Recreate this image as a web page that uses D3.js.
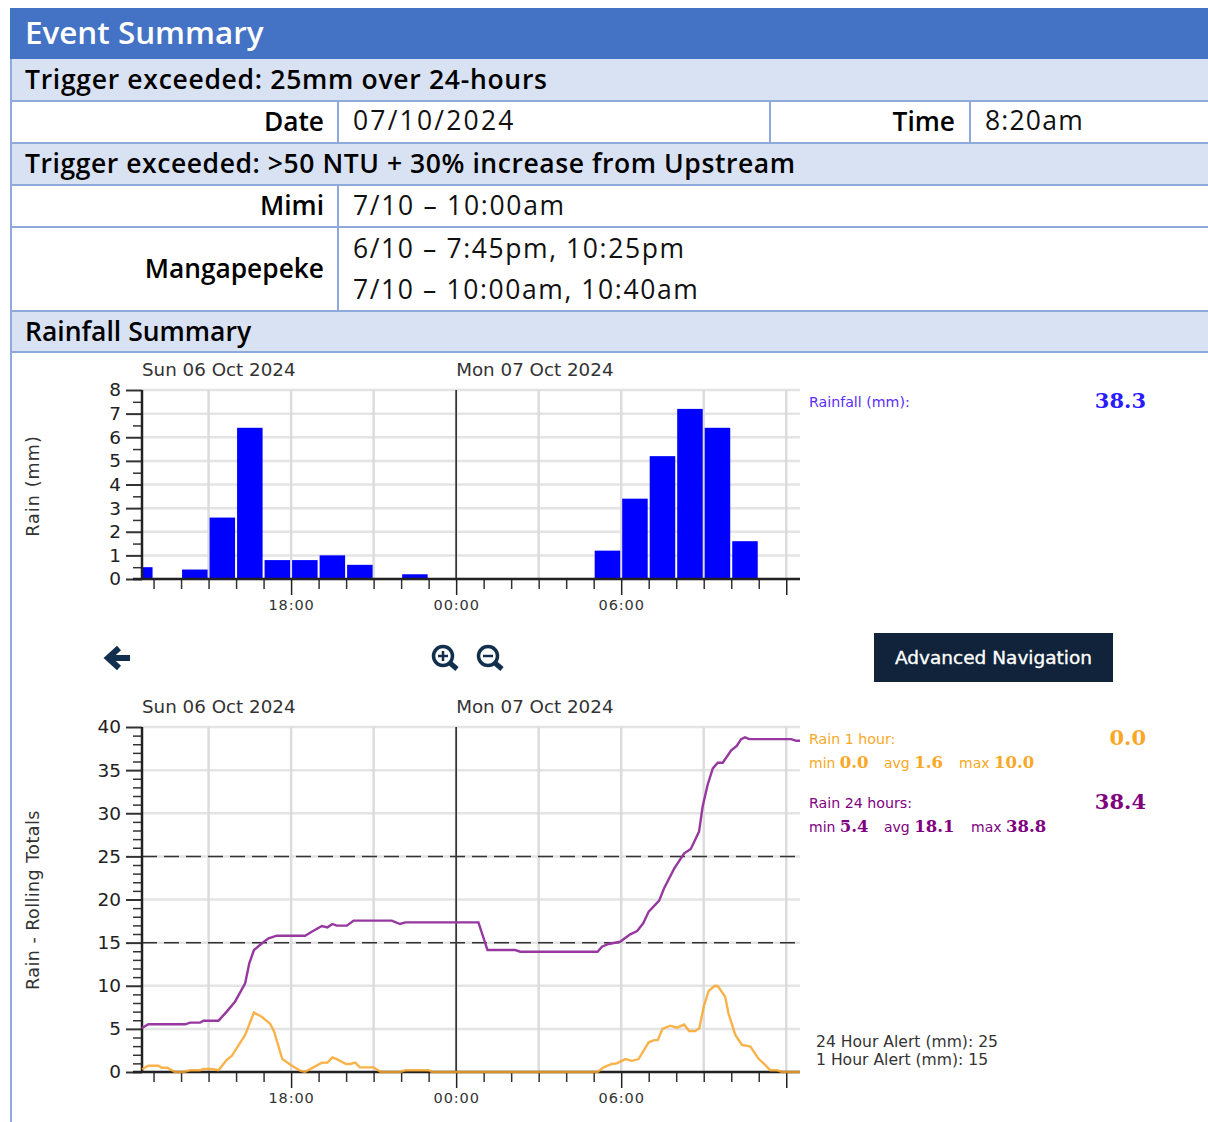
<!DOCTYPE html>
<html>
<head>
<meta charset="utf-8">
<script src="https://cdn.jsdelivr.net/npm/d3@7"></script>
<style>
  body { margin: 0; background: #fff; }
  svg { display: block; }
  .tbl { font-family: "Open Sans", sans-serif; }
  .chart { font-family: "DejaVu Sans", sans-serif; }
  .axis path { display: none; }
</style>
</head>
<body>
<div id="chart"></div>
<script>
// Rainfall per hour, bars end on the hour (hours counted from Sun 00:00)
const barEnds = [13, 15, 16, 17, 18, 19, 20, 21, 23, 30, 31, 32, 33, 34, 35];
const barValues = [0.5, 0.4, 2.6, 6.4, 0.8, 0.8, 1.0, 0.6, 0.2, 1.2, 3.4, 5.2, 7.2, 6.4, 1.6];

// Rolling 24 hour total
const rain24Hours = [12.58, 12.81, 14.15, 14.33, 14.69, 14.81, 15.36, 15.66, 15.96, 16.33, 16.48, 16.65, 16.93, 17.18, 17.48, 18.51, 18.75, 19.12, 19.32, 19.5, 19.66, 20.03, 20.27, 21.66, 21.96, 22.15, 24.81, 25.14, 26.15, 26.33, 29.14, 29.3, 29.54, 29.96, 30.33, 30.58, 30.8, 31.0, 31.38, 31.56, 31.93, 32.29, 32.53, 32.83, 32.96, 33.14, 33.33, 33.51, 33.69, 34, 34.2, 34.36, 34.5, 34.66, 36.18, 36.36, 36.5];
const rain24Values = [5.1, 5.53, 5.53, 5.72, 5.72, 5.95, 5.95, 7.0, 8.15, 10.28, 12.6, 14.14, 14.9, 15.5, 15.8, 15.8, 16.27, 16.93, 16.77, 17.16, 16.97, 16.97, 17.55, 17.55, 17.16, 17.35, 17.35, 14.14, 14.14, 13.95, 13.95, 14.53, 14.84, 15.1, 15.96, 16.35, 17.24, 18.6, 19.87, 21.3, 23.6, 25.35, 25.86, 27.87, 30.76, 33.28, 35.2, 35.86, 35.86, 37.3, 37.8, 38.6, 38.8, 38.6, 38.6, 38.4, 38.4];

// Rolling 1 hour total
const rain1Hours = [12.58, 12.81, 13.17, 13.3, 13.5, 13.78, 14.08, 14.33, 14.69, 14.81, 15.11, 15.36, 15.66, 15.84, 16.33, 16.65, 16.93, 17.24, 17.38, 17.68, 18.03, 18.33, 18.5, 18.81, 19.12, 19.32, 19.5, 19.66, 20, 20.15, 20.33, 20.5, 21, 21.26, 21.96, 22.15, 23, 23.12, 29.14, 29.36, 29.66, 29.84, 30.15, 30.39, 30.63, 31, 31.2, 31.33, 31.5, 31.78, 32.03, 32.29, 32.47, 32.69, 32.84, 33, 33.18, 33.39, 33.51, 33.78, 33.9, 34.15, 34.39, 34.7, 35, 35.18, 35.42, 35.67, 35.85, 36.5];
const rain1Values = [0.31, 0.73, 0.73, 0.5, 0.5, 0, 0, 0.2, 0.2, 0.35, 0.35, 0.2, 1.4, 1.85, 4.3, 6.9, 6.4, 5.6, 4.7, 1.5, 0.73, 0.15, 0, 0.54, 1.08, 1.1, 1.7, 1.5, 0.93, 0.93, 1.08, 0.54, 0.54, 0, 0, 0.2, 0.2, 0, 0, 0.54, 0.93, 1.0, 1.5, 1.3, 1.5, 3.44, 3.7, 3.7, 5.0, 5.37, 5.14, 5.5, 4.75, 4.75, 5.06, 7.57, 9.39, 9.97, 9.97, 8.73, 6.8, 4.3, 3.13, 2.94, 1.5, 1.0, 0.2, 0.2, 0, 0];

const alertLevels = [25, 15];
const gridHours = [15, 18, 21, 24, 27, 30, 33, 36];
const majorHours = [18, 24, 30, 36];
const dayLabels = [["Sun 06 Oct 2024", 12.58], ["Mon 07 Oct 2024", 24]];

const width = 1208, height = 1122;
const svg = d3.select("#chart").append("svg")
    .attr("width", width)
    .attr("height", height);

const blue = "#8eaadb";

// ---- summary table ----
const tbl = svg.append("g").attr("class", "tbl");
tbl.append("rect").attr("x", 10).attr("y", 8).attr("width", 1198).attr("height", 51).attr("fill", "#4472c4");
tbl.append("text").attr("x", 25).attr("y", 44).attr("font-size", 31.4).attr("fill", "#fff").style("font-weight", 600).text("Event Summary");

// band rows: top, bottom, label, letter spacing
const bands = [[59, 101, "Trigger exceeded: 25mm over 24-hours", 0.7], [143, 185, "Trigger exceeded: >50 NTU + 30% increase from Upstream", 0.56], [311, 352, "Rainfall Summary", 0]];
bands.forEach(b => {
    tbl.append("rect").attr("x", 11).attr("y", b[0]).attr("width", 1197).attr("height", b[1] - b[0]).attr("fill", "#d9e2f3");
    tbl.append("text").attr("x", 25).attr("y", b[0] + 30).attr("font-size", 26.5).attr("fill", "#000")
        .style("font-weight", 600).style("letter-spacing", b[3] + "px").text(b[2]);
});

[101, 143, 185, 227, 311, 352].forEach(y => {
    tbl.append("line").attr("x1", 11).attr("x2", width).attr("y1", y).attr("y2", y).attr("stroke", blue).attr("stroke-width", 2);
});
[[338, 101, 143], [770, 101, 143], [970, 101, 143], [338, 185, 311]].forEach(c => {
    tbl.append("line").attr("x1", c[0]).attr("x2", c[0]).attr("y1", c[1]).attr("y2", c[2]).attr("stroke", blue).attr("stroke-width", 2);
});
tbl.append("line").attr("x1", 11).attr("x2", 11).attr("y1", 59).attr("y2", height).attr("stroke", blue).attr("stroke-width", 2);

const labelCells = [["Date", 324, 131], ["Time", 955, 131], ["Mimi", 324, 215], ["Mangapepeke", 324, 278]];
labelCells.forEach(c => {
    tbl.append("text").attr("x", c[1]).attr("y", c[2]).attr("text-anchor", "end").attr("font-size", 26.3).style("font-weight", 600).text(c[0]);
});
const valueCells = [["07/10/2024", 353, 130, 2.2], ["8:20am", 985, 130, 1.2], ["7/10 – 10:00am", 353, 215, 1.7], ["6/10 – 7:45pm, 10:25pm", 353, 258, 1.6], ["7/10 – 10:00am, 10:40am", 353, 299, 1.6]];
valueCells.forEach(c => {
    tbl.append("text").attr("x", c[1]).attr("y", c[2]).attr("font-size", 26.5).attr("fill", "#111").style("letter-spacing", c[3] + "px").text(c[0]);
});

// ---- charts ----
const x = d3.scaleLinear().domain([12.58, 36.5]).range([142, 800]);
const hourLabel = h => d3.format("02")(h % 24) + ":00";

function drawFrame(g, y, yMajor) {
    const top = y.range()[1], bottom = y.range()[0];

    // grid
    g.selectAll(".hgrid").data(yMajor).enter().append("line")
        .attr("x1", x(12.58)).attr("x2", 800)
        .attr("y1", d => y(d)).attr("y2", d => y(d))
        .attr("stroke", "#e4e4e4").attr("stroke-width", 2.5);
    g.selectAll(".vgrid").data(gridHours).enter().append("line")
        .attr("x1", d => x(d)).attr("x2", d => x(d))
        .attr("y1", top).attr("y2", bottom)
        .attr("stroke", "#dcdcdc").attr("stroke-width", 2.5);

    // midnight line
    g.append("line").attr("x1", x(24)).attr("x2", x(24)).attr("y1", top).attr("y2", bottom)
        .attr("stroke", "#222").attr("stroke-width", 1.5);

    dayLabels.forEach(d => {
        g.append("text").attr("x", x(d[1])).attr("y", top - 14)
            .attr("font-size", 18.3).attr("fill", "#333").text(d[0]);
    });
}

function drawAxes(g, y, yMajor, yMinor) {
    const bottom = y.range()[0];
    const hours = d3.range(13, 37);

    const xMinor = g.append("g").attr("class", "axis").attr("transform", `translate(0,${bottom})`)
        .call(d3.axisBottom(x).tickValues(hours.filter(h => !majorHours.includes(h))).tickSize(10).tickFormat(""));
    const xMajor = g.append("g").attr("class", "axis").attr("transform", `translate(0,${bottom})`)
        .call(d3.axisBottom(x).tickValues(majorHours).tickSize(16).tickPadding(5)
            .tickFormat(h => h === 36 ? "" : hourLabel(h)));
    xMajor.selectAll("text").attr("font-size", 14.5).attr("fill", "#333").attr("font-family", "DejaVu Sans").style("letter-spacing", "0.9px");
    xMajor.selectAll("line").attr("stroke", "#222").attr("stroke-width", 1.5);
    xMinor.selectAll("line").attr("stroke", "#333").attr("stroke-width", 1.5);

    const yMin = g.append("g").attr("class", "axis").attr("transform", "translate(142,0)")
        .call(d3.axisLeft(y).tickValues(yMinor).tickSize(9).tickFormat(""));
    yMin.selectAll("line").attr("stroke", "#333").attr("stroke-width", 1.5);
    const yMaj = g.append("g").attr("class", "axis").attr("transform", "translate(142,0)")
        .call(d3.axisLeft(y).tickValues(yMajor).tickSize(16).tickPadding(5));
    yMaj.selectAll("line").attr("stroke", "#333").attr("stroke-width", 2);
    yMaj.selectAll("text").attr("font-size", 18.5).attr("fill", "#222").attr("font-family", "DejaVu Sans");

    // axis lines
    g.append("line").attr("x1", 142).attr("x2", 142).attr("y1", y.range()[1]).attr("y2", bottom).attr("stroke", "#222").attr("stroke-width", 2.5);
    g.append("line").attr("x1", 133).attr("x2", 800).attr("y1", bottom).attr("y2", bottom).attr("stroke", "#222").attr("stroke-width", 2.5);
}

// rainfall bars
const topG = svg.append("g").attr("class", "chart");
const yRain = d3.scaleLinear().domain([0, 8]).range([579, 390]);
const rainTicks = d3.range(0, 9);
const rainMinor = d3.range(0.5, 8, 1);
drawFrame(topG, yRain, rainTicks);

topG.selectAll(".bar").data(barEnds).enter().append("rect")
    .attr("class", "bar")
    .attr("x", d => Math.max(x(d - 1), 142) + 1)
    .attr("y", (d, i) => yRain(barValues[i]))
    .attr("width", d => x(d) - Math.max(x(d - 1), 142) - 2)
    .attr("height", (d, i) => yRain(0) - yRain(barValues[i]))
    .attr("fill", "#0000ff");
drawAxes(topG, yRain, rainTicks, rainMinor);

// rolling totals
const botG = svg.append("g").attr("class", "chart");
const yTotal = d3.scaleLinear().domain([0, 40]).range([1072, 727]);
const totalTicks = d3.range(0, 41, 5);
const totalMinor = d3.range(0, 41).filter(d => d % 5 !== 0);
drawFrame(botG, yTotal, totalTicks);

botG.selectAll(".alert").data(alertLevels).enter().append("line")
    .attr("x1", 142).attr("x2", 795)
    .attr("y1", d => yTotal(d)).attr("y2", d => yTotal(d))
    .attr("stroke", "#333").attr("stroke-width", 1.5).attr("stroke-dasharray", "15,7");
drawAxes(botG, yTotal, totalTicks, totalMinor);

const line = d3.line().x(d => x(d[0])).y(d => yTotal(d[1]));
botG.append("path").datum(d3.zip(rain24Hours, rain24Values)).attr("d", line)
    .attr("fill", "none").attr("stroke", "#96389f").attr("stroke-width", 2.4);
botG.append("path").datum(d3.zip(rain1Hours, rain1Values)).attr("d", line)
    .attr("fill", "none").attr("stroke", "#f9a52c").attr("stroke-opacity", 0.85).attr("stroke-width", 2.4);

// rotated axis titles
[["Rain (mm)", 486, 1.1], ["Rain - Rolling Totals", 900, 0.45]].forEach(t => {
    svg.append("text").attr("class", "chart")
        .attr("transform", `translate(39,${t[1]}) rotate(-90)`)
        .attr("text-anchor", "middle").attr("font-size", 17.5).attr("fill", "#333")
        .style("letter-spacing", t[2] + "px").text(t[0]);
});

// ---- legends ----
const legend = svg.append("g").attr("class", "chart");
const bigFont = "DejaVu Serif";
const orange = "#f9a825", purple = "#800080";

function legendTitle(txt, y, col, value, valueCol) {
    legend.append("text").attr("x", 809).attr("y", y).attr("font-size", 14.2).attr("fill", col).text(txt);
    legend.append("text").attr("x", 1146).attr("y", y + 1).attr("text-anchor", "end")
        .attr("font-family", bigFont).attr("font-size", 21).attr("font-weight", "bold").attr("fill", valueCol || col).text(value);
}
function legendStat(label, value, xPos, y, col) {
    const t = legend.append("text").attr("x", xPos).attr("y", y).attr("fill", col).attr("font-size", 14).text(label + " ");
    t.append("tspan").attr("font-family", bigFont).attr("font-size", 16.5).attr("font-weight", "bold").text(value);
}

legendTitle("Rainfall (mm):", 407, "#5a2dfa", "38.3", "#2a1cff");
legendTitle("Rain 1 hour:", 744, orange, "0.0");
legendStat("min", "0.0", 809, 768, orange);
legendStat("avg", "1.6", 884, 768, orange);
legendStat("max", "10.0", 959, 768, orange);
legendTitle("Rain 24 hours:", 808, purple, "38.4");
legendStat("min", "5.4", 809, 832, purple);
legendStat("avg", "18.1", 884, 832, purple);
legendStat("max", "38.8", 971, 832, purple);

["24 Hour Alert (mm): 25", "1 Hour Alert (mm): 15"].forEach((t, i) => {
    legend.append("text").attr("x", 816).attr("y", 1047 + i * 18).attr("font-size", 15.6).attr("fill", "#333").text(t);
});

// ---- navigation bits ----
const nav = svg.append("g");
nav.append("path").attr("d", "M130,658 H112 M119,648 L108,658 L119,668")
    .attr("fill", "none").attr("stroke", "#12304d").attr("stroke-width", 6).attr("stroke-linejoin", "miter");
[[443, true], [488, false]].forEach(m => {
    const g = nav.append("g").attr("transform", `translate(${m[0]},656)`).attr("fill", "none").attr("stroke", "#12304d");
    g.append("circle").attr("r", 9.5).attr("stroke-width", 3.5);
    g.append("line").attr("x1", 7).attr("y1", 7).attr("x2", 14).attr("y2", 13).attr("stroke-width", 5);
    g.append("line").attr("x1", -5).attr("x2", 5).attr("stroke-width", 2.5);
    if (m[1]) g.append("line").attr("y1", -5).attr("y2", 5).attr("stroke-width", 2.5);
});
nav.append("rect").attr("x", 874).attr("y", 633).attr("width", 239).attr("height", 49).attr("fill", "#10233b");
nav.append("text").attr("x", 993.5).attr("y", 664).attr("text-anchor", "middle")
    .attr("font-family", "DejaVu Sans").attr("font-size", 18.5).attr("fill", "#fff")
    .attr("stroke", "#fff").attr("stroke-width", 0.35).text("Advanced Navigation");
</script>
</body>
</html>
